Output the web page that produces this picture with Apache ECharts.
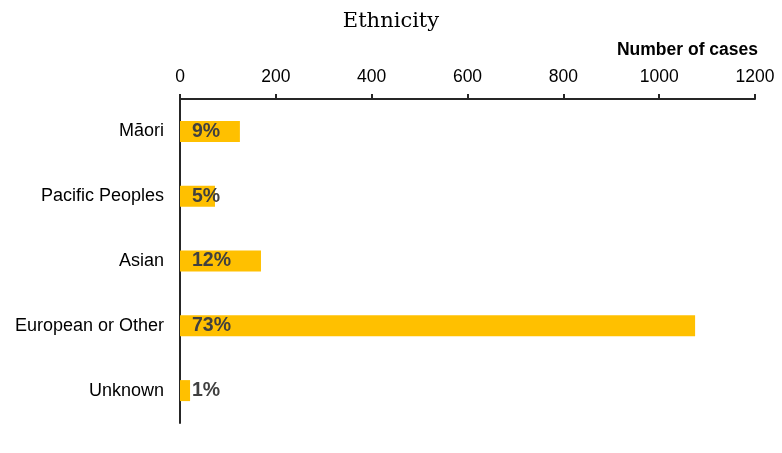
<!DOCTYPE html>
<html>
<head>
<meta charset="utf-8">
<script src="https://cdn.jsdelivr.net/npm/echarts@6/dist/echarts.min.js"></script>
<style>html,body{margin:0;padding:0;background:#fff;}#c{width:782px;height:453px;}</style>
</head>
<body>
<div id="c"></div>
<script>
const categories = ["Māori", "Pacific Peoples", "Asian", "European or Other", "Unknown"];
const cases = [125, 73, 169, 1075, 21];
const percentLabels = ["9%", "5%", "12%", "73%", "1%"];
const xTicks = [0, 200, 400, 600, 800, 1000, 1200];

const chart = echarts.init(document.getElementById('c'));
chart.setOption({
  animation: false,
  backgroundColor: '#ffffff',
  title: [
    { text: 'Ethnicity', left: 'center', top: 6,
      textStyle: { fontFamily: 'DejaVu Serif', fontWeight: 'normal', fontSize: 21, color: '#000' } },
    { text: 'Number of cases', right: 19, top: 36,
      textStyle: { fontFamily: 'Liberation Sans', fontWeight: 'bold', fontSize: 17.5, color: '#000' } }
  ],
  grid: { left: 180, right: 27, top: 99, bottom: 30 },
  xAxis: {
    type: 'value', position: 'top', min: xTicks[0], max: xTicks[xTicks.length - 1], interval: 200,
    axisLine: { show: true, lineStyle: { color: '#262626', width: 2 } },
    axisTick: { show: true, length: 5, lineStyle: { color: '#262626', width: 2 } },
    axisLabel: { margin: 13, fontFamily: 'Liberation Sans', fontSize: 17.5, color: '#000',
      formatter: v => String(v) },
    splitLine: { show: false }
  },
  yAxis: {
    type: 'category', data: categories, inverse: true,
    axisLine: { show: true, lineStyle: { color: '#262626', width: 2 } },
    axisTick: { show: false },
    axisLabel: { margin: 16, fontFamily: 'Liberation Sans', fontSize: 18, color: '#000' }
  },
  series: [{
    type: 'bar', data: cases, barWidth: 21,
    itemStyle: { color: '#FFC000' },
    label: {
      show: true, position: [12, '50%'], align: 'left', verticalAlign: 'middle',
      formatter: p => percentLabels[p.dataIndex],
      fontFamily: 'Liberation Sans', fontWeight: 'bold', fontSize: 19.5, color: '#404040'
    }
  }]
});
</script>
</body>
</html>
